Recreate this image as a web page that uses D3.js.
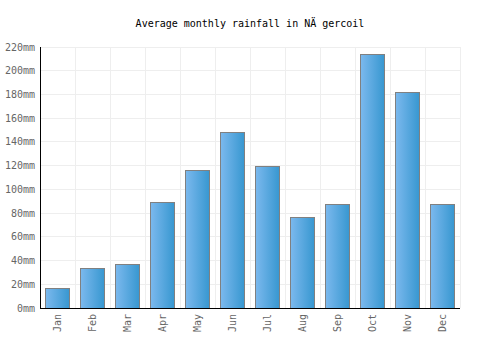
<!DOCTYPE html>
<html><head><meta charset="utf-8">
<script src="https://cdn.jsdelivr.net/npm/d3@7"></script>
<style>body{margin:0;background:#fff}</style>
</head><body>
<script>
const title = "Average monthly rainfall in NÄ gercoil";
const months = ["Jan","Feb","Mar","Apr","May","Jun","Jul","Aug","Sep","Oct","Nov","Dec"];
const rainfall = [17,34,37,89,116,148,120,77,88,214,182,88];
const yTicks = [0,20,40,60,80,100,120,140,160,180,200,220];

const W=500,H=350, m={l:40,r:40,t:47,b:42};
const svg=d3.select("body").append("svg").attr("width",W).attr("height",H);
const defs=svg.append("defs");
const g=defs.append("linearGradient").attr("id","bg").attr("x1","0").attr("x2","1").attr("y1","0").attr("y2","0");
g.append("stop").attr("offset","0").attr("stop-color","#7cb9ee");
g.append("stop").attr("offset","1").attr("stop-color","#3797d0");

const x=d3.scaleBand().domain(months).range([m.l,W-m.r]).paddingInner(0.31).paddingOuter(0.155);
const y=d3.scaleLinear().domain([0,220]).range([H-m.b,m.t]);
const font="'DejaVu Sans Mono', monospace";

// grid
const step=x.step();
const bounds=months.map((d,i)=>m.l+step*(i+1));
svg.append("g").selectAll("line").data(bounds).join("line")
 .attr("x1",d=>d).attr("x2",d=>d).attr("y1",y(220)).attr("y2",y(0))
 .attr("stroke","#eeeeee").attr("stroke-width",1).attr("shape-rendering","crispEdges");
svg.append("g").selectAll("line").data(yTicks.slice(1)).join("line")
 .attr("x1",m.l).attr("x2",W-m.r).attr("y1",d=>y(d)).attr("y2",d=>y(d))
 .attr("stroke","#eeeeee").attr("stroke-width",1).attr("shape-rendering","crispEdges");

// bars
svg.append("g").selectAll("rect").data(rainfall).join("rect")
 .attr("x",(d,i)=>Math.round(x(months[i]))+0.5).attr("width",Math.round(x.bandwidth()))
 .attr("y",d=>Math.round(y(d))+0.5).attr("height",d=>Math.round(y(0))-Math.round(y(d)))
 .attr("fill","url(#bg)").attr("stroke","#808080").attr("stroke-width",1);

// axes lines
svg.append("line").attr("x1",m.l+0.5).attr("x2",m.l+0.5).attr("y1",y(220)).attr("y2",y(0)+1).attr("stroke","#000");
svg.append("line").attr("x1",m.l).attr("x2",W-m.r).attr("y1",y(0)+0.5).attr("y2",y(0)+0.5).attr("stroke","#000");

// y labels
svg.append("g").selectAll("text").data(yTicks).join("text")
 .attr("x",m.l-5).attr("y",d=>y(d)).attr("dy","0.35em").attr("text-anchor","end")
 .attr("font-family",font).attr("font-size",10).attr("fill","#666").text(d=>d+"mm");

// x labels
svg.append("g").selectAll("text").data(months).join("text")
 .attr("transform",d=>`translate(${x(d)+x.bandwidth()/2},${y(0)+6}) rotate(-90)`)
 .attr("dy","0.35em").attr("text-anchor","end")
 .attr("font-family",font).attr("font-size",10).attr("fill","#666").text(d=>d);

// title
svg.append("text").attr("x",W/2).attr("y",23).attr("dy","0.35em").attr("text-anchor","middle")
 .attr("font-family",font).attr("font-size",10).attr("fill","#000").text(title);
</script>
</body></html>
